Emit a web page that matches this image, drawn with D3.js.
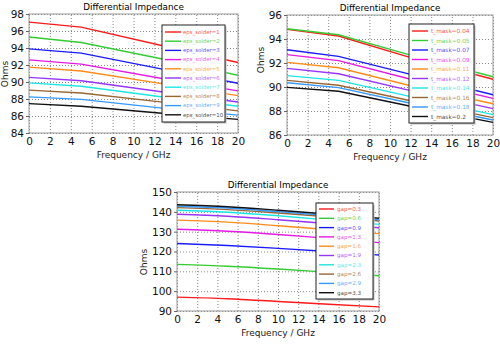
<!DOCTYPE html>
<html>
<head>
<meta charset="utf-8">
<script src="https://cdn.jsdelivr.net/npm/d3@7"></script>
<style>
  body { margin: 0; background: #fff; }
  svg { display: block; }
  text { font-family: "DejaVu Sans", Verdana, sans-serif; }
  .tick text { font-size: 10.5px; fill: #111; }
  .grid line { stroke: #888; stroke-dasharray: 1,2; }
  .grid .domain { display: none; }
</style>
</head>
<body>
<div id="chart-area"></div>
<script>
var colors = ["#ff1a1a", "#33cc33", "#1a1aff", "#e619e6", "#ff8c1a",
              "#9933ff", "#1ae6e6", "#996633", "#3399ff", "#111111"];

// top-left: eps_solder sweep
var freq1 = [0, 5, 13, 20];
var labels1 = ["eps_solder=1", "eps_solder=2", "eps_solder=3", "eps_solder=4", "eps_solder=5",
               "eps_solder=6", "eps_solder=7", "eps_solder=8", "eps_solder=9", "eps_solder=10"];
var values1 = [
    [97.05, 96.45, 94.2, 92.3],
    [95.3, 94.65, 92.65, 90.8],
    [93.9, 93.4, 91.45, 89.85],
    [92.6, 92.1, 90.35, 88.95],
    [91.75, 91.3, 89.75, 88.4],
    [90.55, 90.15, 88.8, 87.65],
    [89.9, 89.5, 88.2, 87.15],
    [89.05, 88.7, 87.6, 86.6],
    [88.25, 87.95, 86.9, 86.1],
    [87.45, 87.15, 86.3, 85.6]
];
var yTicks1 = [84, 86, 88, 90, 92, 94, 96, 98];

// top-right: t_mask sweep
var freq2 = [0, 5, 12, 20];
var labels2 = ["t_mask=0.04", "t_mask=0.05", "t_mask=0.07", "t_mask=0.09", "t_mask=0.11",
               "t_mask=0.12", "t_mask=0.14", "t_mask=0.16", "t_mask=0.18", "t_mask=0.2"];
var values2 = [
    [94.8, 94.25, 92.45, 90.65],
    [94.85, 94.35, 92.65, 90.85],
    [93.1, 92.55, 91.05, 89.35],
    [92.7, 92.2, 90.65, 89.05],
    [92.05, 91.6, 90.1, 88.6],
    [91.55, 91.1, 89.7, 88.2],
    [90.95, 90.55, 89.2, 87.7],
    [90.55, 90.15, 88.85, 87.45],
    [90.35, 89.95, 88.65, 87.25],
    [89.97, 89.65, 88.4, 87.05]
];
var yTicks2 = [86, 88, 90, 92, 94, 96];

// bottom: gap sweep
var freq3 = [0, 5, 10, 15, 20];
var labels3 = ["gap=0.3", "gap=0.6", "gap=0.9", "gap=1.3", "gap=1.6",
               "gap=1.9", "gap=2.3", "gap=2.6", "gap=2.9", "gap=3.3"];
var values3 = [
    [97.0, 96.2, 94.8, 93.4, 92.1],
    [113.5, 112.6, 111.2, 109.5, 107.8],
    [124.0, 123.0, 121.6, 120.0, 118.2],
    [131.2, 130.2, 128.6, 126.6, 124.5],
    [135.8, 134.8, 133.0, 131.0, 129.0],
    [138.8, 137.8, 136.0, 134.0, 132.0],
    [140.8, 139.8, 138.0, 135.9, 133.7],
    [142.1, 141.1, 139.4, 137.5, 135.4],
    [142.8, 141.9, 140.1, 138.1, 136.0],
    [143.6, 142.6, 140.8, 138.8, 136.8]
];
var yTicks3 = [90, 100, 110, 120, 130, 140, 150];

var xTicks = [0, 2, 4, 6, 8, 10, 12, 14, 16, 18, 20];

var svg = d3.select("#chart-area")
    .append("svg")
    .attr("width", 500)
    .attr("height", 361);

svg.append("rect").attr("width", 500).attr("height", 361).attr("fill", "#fff");

function drawChart(c) {
    var width = c.right - c.left,
        height = c.bottom - c.top;

    var g = svg.append("g")
        .attr("transform", "translate(" + c.left + "," + c.top + ")");

    var x = d3.scaleLinear().domain([0, 20]).range([0, width]);
    var y = d3.scaleLinear().domain(d3.extent(c.yTicks)).range([height, 0]);

    // dotted grid
    g.append("g").attr("class", "grid")
        .attr("transform", "translate(0," + height + ")")
        .call(d3.axisBottom(x).tickValues(xTicks).tickSize(-height).tickFormat(""));
    g.append("g").attr("class", "grid")
        .call(d3.axisLeft(y).tickValues(c.yTicks).tickSize(-width).tickFormat(""));

    g.append("rect")
        .attr("width", width)
        .attr("height", height)
        .attr("fill", "none")
        .attr("stroke", "#999");

    var xAxis = g.append("g")
        .attr("transform", "translate(0," + height + ")")
        .call(d3.axisBottom(x).tickValues(xTicks).tickSize(0).tickPadding(5));
    xAxis.select(".domain").remove();

    var yAxis = g.append("g")
        .call(d3.axisLeft(y).tickValues(c.yTicks).tickSize(3).tickPadding(2));
    yAxis.select(".domain").remove();
    yAxis.selectAll(".tick line").attr("stroke", "#666");

    var line = d3.line()
        .x((d, i) => x(c.freq[i]))
        .y((d) => y(d))
        .curve(c.curve);

    g.selectAll("path.series")
        .data(c.values)
        .enter().append("path")
        .attr("class", "series")
        .attr("d", line)
        .attr("fill", "none")
        .attr("stroke", (d, i) => colors[i])
        .attr("stroke-width", 1.4);

    // titles
    g.append("text")
        .attr("x", width / 2)
        .attr("y", -4)
        .attr("text-anchor", "middle")
        .attr("font-size", "8.8px")
        .text("Differential Impedance");

    g.append("text")
        .attr("x", width / 2)
        .attr("y", height + 25)
        .attr("text-anchor", "middle")
        .attr("font-size", "9px")
        .attr("fill", "#222")
        .text("Frequency / GHz");

    g.append("text")
        .attr("transform", "rotate(-90)")
        .attr("x", -c.ohmsY)
        .attr("y", c.ohmsX)
        .attr("text-anchor", "middle")
        .attr("dy", "0.35em")
        .attr("font-size", "9px")
        .attr("fill", "#222")
        .text("Ohms");

    // legend
    var L = c.legend;
    var lg = svg.append("g").attr("transform", "translate(" + L.x + "," + L.y + ")");
    lg.append("rect")
        .attr("x", 1.5).attr("y", 1.5)
        .attr("width", L.w).attr("height", L.h)
        .attr("fill", "#bbb");
    lg.append("rect")
        .attr("width", L.w).attr("height", L.h)
        .attr("fill", "#fff")
        .attr("stroke", "#222")
        .attr("stroke-width", 1);

    var items = lg.selectAll("g.item")
        .data(c.labels)
        .enter().append("g")
        .attr("class", "item")
        .attr("transform", (d, i) => "translate(0," + (L.first + i * L.step) + ")");

    items.append("line")
        .attr("x1", 3).attr("x2", 3 + L.lineW)
        .attr("stroke", (d, i) => colors[i])
        .attr("stroke-width", 1.4);

    items.append("text")
        .attr("x", L.textX)
        .attr("dy", "0.35em")
        .attr("font-size", L.fs)
        .attr("fill", (d, i) => colors[i])
        .attr("fill-opacity", 0.8)
        .text((d) => d);
}

drawChart({
    left: 29, right: 238, top: 14, bottom: 133,
    freq: freq1, values: values1, labels: labels1, yTicks: yTicks1,
    curve: d3.curveLinear, ohmsX: -24, ohmsY: 60,
    legend: { x: 162, y: 25, w: 63, h: 97, first: 7, step: 9.2, lineW: 16, textX: 21, fs: "5.4px" }
});

drawChart({
    left: 287, right: 493, top: 15, bottom: 135,
    freq: freq2, values: values2, labels: labels2, yTicks: yTicks2,
    curve: d3.curveLinear, ohmsX: -26, ohmsY: 45,
    legend: { x: 409, y: 24, w: 65, h: 99, first: 7, step: 9.5, lineW: 16, textX: 22, fs: "5.8px" }
});

drawChart({
    left: 177, right: 379, top: 192, bottom: 311,
    freq: freq3, values: values3, labels: labels3, yTicks: yTicks3,
    curve: d3.curveMonotoneX, ohmsX: -33, ohmsY: 70,
    legend: { x: 316, y: 203, w: 57, h: 96, first: 6, step: 9.3, lineW: 15, textX: 21, fs: "5.6px" }
});
</script>
</body>
</html>
